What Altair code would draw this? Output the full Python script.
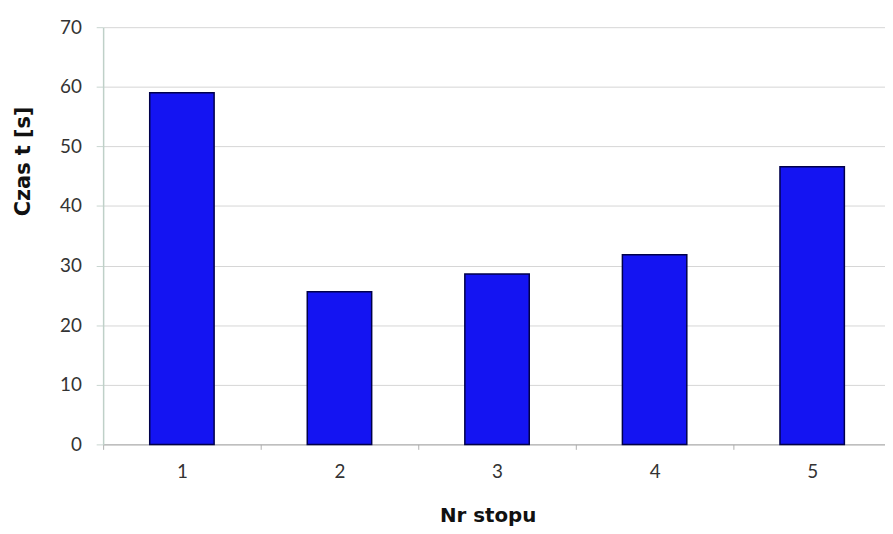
import altair as alt
import pandas as pd

categories = ["1", "2", "3", "4", "5"]
values = [59.0, 25.6, 28.6, 31.8, 46.6]

df = pd.DataFrame({"nr": categories, "czas": values})

bars = alt.Chart(df).mark_bar(
    size=65, color="#1414f2", stroke="#00004a", strokeWidth=1.5
).encode(
    x=alt.X("nr:O", sort=categories,
            scale=alt.Scale(paddingInner=0, paddingOuter=0),
            axis=alt.Axis(
                title="Nr stopu", labelAngle=0,
                labelFont="Lato", labelFontSize=19, labelColor="#333333",
                labelPadding=13, tickSize=5, tickColor="#b0b0b0", tickBand="extent",
                domainColor="#a8a8a8", domainWidth=1,
                titleFont="DejaVu Sans", titleFontSize=20, titleFontWeight="bold",
                titleColor="#111111", titleX=388, titleY=78, titleAlign="center",
                titleBaseline="alphabetic", grid=False)),
    y=alt.Y("czas:Q",
            scale=alt.Scale(domain=[0, 70], nice=False),
            axis=alt.Axis(
                title="Czas   t  [s]", values=[0, 10, 20, 30, 40, 50, 60, 70],
                labelFont="Lato", labelFontSize=19, labelColor="#333333",
                labelPadding=15, tickSize=7, tickColor="#c8d4cf",
                domainColor="#bfd0c8", domainWidth=1.5,
                gridColor="#d6d6d6", gridWidth=1,
                titleFont="DejaVu Sans", titleFontSize=21, titleFontWeight="bold",
                titleColor="#111111", titleAngle=270, titleX=-80, titleY=135,
                titleAlign="center", titleBaseline="middle")),
)

chart = bars.properties(
    width=795, height=421,
    autosize=alt.AutoSizeParams(type="none"),
    padding={"left": 96, "top": 17, "right": -6, "bottom": 80},
    background="white",
).configure_view(stroke=None)

chart.save("out.html", embed_options={"renderer": "svg", "actions": False})
